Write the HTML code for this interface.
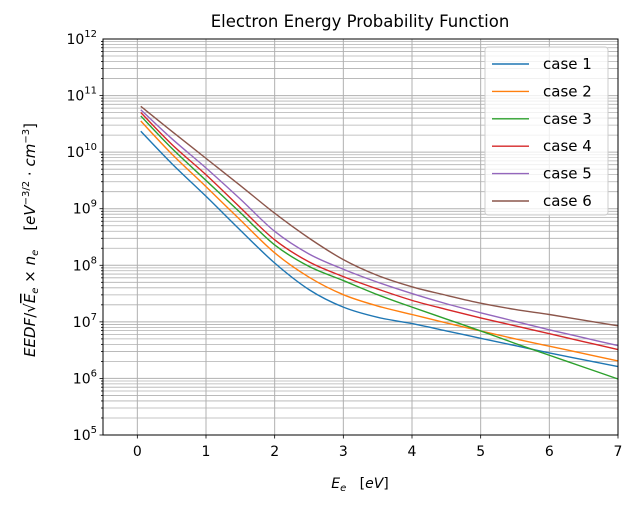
<!DOCTYPE html>
<html><head><meta charset="utf-8">
<style>
body{margin:0;background:#fff;}
svg text{font-family:"DejaVu Sans","Liberation Sans",sans-serif;fill:#000;}
</style></head>
<body>
<svg id="chart" width="636" height="507" viewBox="0 0 636 507" xmlns="http://www.w3.org/2000/svg">
<g id="grid"></g>
<g id="series"></g>
<g id="axes"></g>
<text x="360" y="27" font-size="16.5" text-anchor="middle">Electron Energy Probability Function</text>
<text x="360" y="488" font-size="14" text-anchor="middle" xml:space="preserve"><tspan font-style="italic">E</tspan><tspan font-style="italic" font-size="10" dy="3">e</tspan><tspan dy="-3">   [</tspan><tspan font-style="italic">eV</tspan>]</text>
<text transform="translate(35,240) rotate(-90)" font-size="15" text-anchor="middle" xml:space="preserve"><tspan font-style="italic">EEDF</tspan>/√<tspan font-style="italic" text-decoration="overline">E</tspan><tspan font-style="italic" font-size="10" dy="3">e</tspan><tspan dy="-3"> × </tspan><tspan font-style="italic">n</tspan><tspan font-style="italic" font-size="10" dy="3">e</tspan><tspan dy="-3">    [</tspan><tspan font-style="italic">eV</tspan><tspan font-size="10" dy="-6">−3/2</tspan><tspan dy="6"> · </tspan><tspan font-style="italic">cm</tspan><tspan font-size="10" dy="-6">−3</tspan><tspan dy="6">]</tspan></text>
<g id="legend"></g>
</svg>
<script>
const xValues = [0.05,0.5,1,1.5,2,2.5,3,3.5,4,4.5,5,5.5,6,6.5,7];
const case1 = [10.37,9.8,9.22,8.62,8.04,7.57,7.26,7.08,6.97,6.84,6.71,6.58,6.45,6.33,6.21];
const case2 = [10.55,9.97,9.39,8.8,8.22,7.79,7.48,7.28,7.13,6.98,6.84,6.7,6.57,6.44,6.31];
const case3 = [10.64,10.07,9.5,8.93,8.36,7.98,7.73,7.48,7.26,7.05,6.84,6.62,6.41,6.2,5.99];
const case4 = [10.7,10.14,9.6,9.02,8.45,8.06,7.8,7.58,7.38,7.22,7.07,6.93,6.79,6.65,6.51];
const case5 = [10.75,10.24,9.72,9.17,8.6,8.2,7.93,7.7,7.5,7.32,7.16,7.01,6.86,6.72,6.58];
const case6 = [10.81,10.37,9.89,9.41,8.92,8.48,8.1,7.82,7.62,7.47,7.33,7.22,7.13,7.03,6.93];
const seriesNames = ["case 1","case 2","case 3","case 4","case 5","case 6"];
const xTicks = [0,1,2,3,4,5,6,7];
const yTicks = [5,6,7,8,9,10,11,12];

const allSeries=[case1,case2,case3,case4,case5,case6];
const colors=["#1f77b4","#ff7f0e","#2ca02c","#d62728","#9467bd","#8c564b"];
const L=103,R=618,T=39,B=435;
const xMin=-0.5,xMax=7,yMin=5,yMax=12;
function sx(v){return L+(v-xMin)/(xMax-xMin)*(R-L);}
function sy(l){return B-(l-yMin)/(yMax-yMin)*(B-T);}
const NS="http://www.w3.org/2000/svg";
function mk(tag,attrs,parent){const e=document.createElementNS(NS,tag);for(const k in attrs)e.setAttribute(k,attrs[k]);parent.appendChild(e);return e;}
const grid=document.getElementById('grid'),axes=document.getElementById('axes'),ser=document.getElementById('series'),leg=document.getElementById('legend');
for(let d=yMin;d<yMax;d++){for(let m=1;m<10;m++){const y=sy(d+Math.log10(m));
 const ln=mk('line',{x1:L,x2:R,y1:y,y2:y,stroke:'#b0b0b0','stroke-width':m==1?1:0.8},grid);
 
 
 const tk=mk('line',{x1:L,x2:L-(m==1?3.5:2),y1:y,y2:y,stroke:'#000','stroke-width':0.8},axes);
 
 }}
xTicks.forEach(v=>{const x=sx(v);
 const g=mk('line',{x1:x,x2:x,y1:T,y2:B,stroke:'#b0b0b0','stroke-width':1},grid);
 
 
 const tk=mk('line',{x1:x,x2:x,y1:B,y2:B+3.5,stroke:'#000','stroke-width':0.8},axes);
 
 
 const t=mk('text',{x:x,y:B+21,'font-size':14,'text-anchor':'middle'},axes);
 t.textContent=String(v);
 
 });
yTicks.forEach(d=>{const y=sy(d);
 const t=mk('text',{x:L-6,y:y+5,'font-size':14,'text-anchor':'end'},axes);
 t.innerHTML='10<tspan font-size="10" dy="-7">'+d+'</tspan>';
 
 });
const frame=mk('rect',{x:L,y:T,width:R-L,height:B-T,fill:'none',stroke:'#000','stroke-width':1},axes);


allSeries.forEach((s,i)=>{const p=xValues.map((x,j)=>[sx(x),sy(s[j])]);
 let d='M'+p[0][0]+','+p[0][1];
 for(let j=0;j<p.length-1;j++){const p0=p[j-1]||p[j],p1=p[j],p2=p[j+1],p3=p[j+2]||p[j+1];
  const c1=[p1[0]+(p2[0]-p0[0])/6,p1[1]+(p2[1]-p0[1])/6],c2=[p2[0]-(p3[0]-p1[0])/6,p2[1]-(p3[1]-p1[1])/6];
  d+=' C'+c1+' '+c2+' '+p2;}
 const path=mk('path',{d:d,fill:'none',stroke:colors[i],'stroke-width':1.4},ser);
 
 });
const box=mk('rect',{x:485,y:47,width:123,height:168,rx:3,fill:'#fff','fill-opacity':0.8,stroke:'#ccc','stroke-width':1},leg);


seriesNames.forEach((n,i)=>{const y=64+i*27.4;
 const g=mk('g',{},leg);
 
 
 mk('line',{x1:492,x2:529,y1:y,y2:y,stroke:colors[i],'stroke-width':1.4},g);
 const t=mk('text',{x:543,y:y+5,'font-size':15},g);t.textContent=n;});
</script>
</body></html>
